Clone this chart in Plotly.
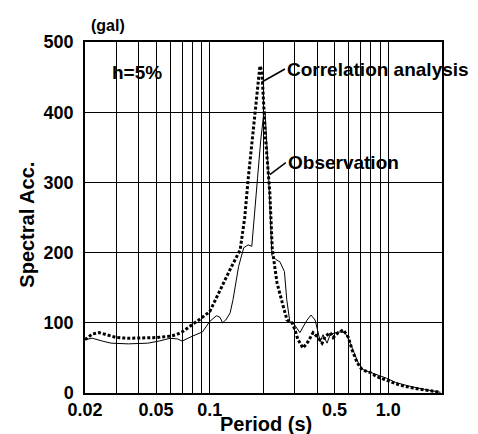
import math
import plotly.graph_objects as go

# Correlation analysis (dotted)
period_corr = [0.020,0.022,0.024,0.027,0.030,0.035,0.040,0.050,0.060,0.065,0.070,0.080,0.090,0.100,0.114,0.130,0.148,0.157,0.164,0.175,0.183,0.191,0.196,0.200,0.205,0.212,0.217,0.224,0.238,0.257,0.271,0.289,0.300,0.312,0.333,0.355,0.379,0.404,0.426,0.442,0.472,0.491,0.524,0.559,0.596,0.628,0.670,0.714,0.793,0.866,0.937,1.026,1.170,1.380,1.650,1.960]
sa_corr = [76,84,86,82,79,78,78,79,81,83,87,97,107,116,147,176,204,250,304,370,420,466,458,415,365,318,285,205,157,125,104,100,90,76,64,73,86,79,71,80,86,79,86,90,80,61,43,33,29,23,20,17,11,7,4,1]

# Observation (solid)
period_obs = [0.020,0.022,0.025,0.028,0.035,0.045,0.052,0.060,0.066,0.070,0.080,0.091,0.100,0.109,0.114,0.118,0.123,0.130,0.135,0.145,0.155,0.164,0.172,0.178,0.185,0.193,0.200,0.204,0.208,0.214,0.223,0.235,0.247,0.262,0.270,0.281,0.293,0.320,0.333,0.351,0.369,0.389,0.404,0.415,0.431,0.454,0.472,0.504,0.537,0.573,0.612,0.653,0.679,0.725,0.800,0.870,0.980,1.100,1.300,1.600,1.960]
sa_obs = [76,78,74,71,70,71,74,78,77,74,81,87,102,110,108,100,104,114,133,180,207,211,209,250,305,360,395,401,360,304,196,190,187,173,133,101,100,86,94,104,111,104,87,73,83,71,83,86,87,86,71,54,43,33,29,25,21,15,10,5,1]

x_grid = [0.02,0.03,0.04,0.05,0.06,0.07,0.08,0.09,0.1,0.2,0.3,0.4,0.5,0.6,0.7,0.8,0.9,1.0,2.0]
x_labels = {0.02: "0.02", 0.05: "0.05", 0.1: "0.1", 0.5: "0.5", 1.0: "1.0"}
y_ticks = [0, 100, 200, 300, 400, 500]

FONT = "Liberation Sans, Arial, sans-serif"

fig = go.Figure()
fig.add_trace(go.Scatter(x=period_obs, y=sa_obs, mode="lines",
                         line=dict(color="black", width=1), name="Observation"))
fig.add_trace(go.Scatter(x=period_corr, y=sa_corr, mode="lines",
                         line=dict(color="black", width=3, dash="3px,2px"),
                         name="Correlation analysis"))

# page body has an 8px margin, so the figure is sized/offset to compensate
fig.update_layout(
    width=470, height=426,
    margin=dict(l=77, r=36, t=34, b=41),
    paper_bgcolor="white", plot_bgcolor="white",
    showlegend=False,
    font=dict(family=FONT, color="black"),
    xaxis=dict(type="log", range=[math.log10(0.02), math.log10(2.0)],
               tickvals=x_grid,
               ticktext=[x_labels.get(v, "") for v in x_grid],
               showgrid=True, gridcolor="black", gridwidth=1,
               showline=True, linecolor="black", linewidth=1.5, mirror=True,
               ticks="", zeroline=False,
               tickfont=dict(size=18, family=FONT, weight="bold")),
    yaxis=dict(range=[0, 500], tickvals=y_ticks,
               showgrid=True, gridcolor="black", gridwidth=1,
               showline=True, linecolor="black", linewidth=1.5, mirror=True,
               ticks="", zeroline=False, ticklabelstandoff=6,
               tickfont=dict(size=18, family=FONT, weight="bold")),
)

anns = [
    dict(text="(gal)", xref="paper", yref="paper", x=0.01, y=1.048,
         xanchor="left", yanchor="middle", showarrow=False,
         font=dict(size=16, weight="bold")),
    dict(text="Spectral Acc.", xref="paper", yref="paper", x=-0.163, y=0.479,
         textangle=-90, xanchor="center", yanchor="middle", showarrow=False,
         font=dict(size=20, weight="bold")),
    dict(text="Period (s)", xref="paper", yref="paper", x=0.507, y=-0.088,
         xanchor="center", yanchor="middle", showarrow=False,
         font=dict(size=20, weight="bold")),
    dict(text="h=5%", xref="x", yref="y", x=math.log10(0.0389), y=456,
         xanchor="center", yanchor="middle", showarrow=False,
         font=dict(size=19, weight="bold")),
    dict(text="Correlation analysis", xref="x", yref="y",
         x=math.log10(0.196), y=443, ax=23, ay=-13,
         xanchor="left", yanchor="middle", showarrow=True, arrowhead=0,
         arrowwidth=1.5, arrowcolor="black", standoff=0,
         font=dict(size=19, weight="bold")),
    dict(text="Observation", xref="x", yref="y",
         x=math.log10(0.217), y=311, ax=16, ay=-12,
         xanchor="left", yanchor="middle", showarrow=True, arrowhead=0,
         arrowwidth=1.5, arrowcolor="black", standoff=0,
         font=dict(size=19, weight="bold")),
]
fig.update_layout(annotations=anns)

fig.write_html("out.html")
